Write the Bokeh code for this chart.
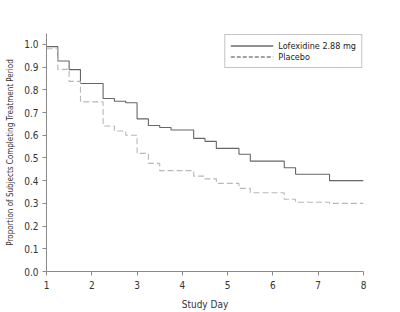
from bokeh.plotting import figure
from bokeh.models import Range1d, FixedTicker, Legend, LegendItem, NumeralTickFormatter
from bokeh.embed import file_html
from bokeh.resources import INLINE

# Data (step curves, value holds from each day until the next)
lofex_day = [1, 1.25, 1.5, 1.75, 2.25, 2.5, 2.75, 3.0, 3.25, 3.5, 3.75, 4.25, 4.5, 4.75, 5.25, 5.5, 6.25, 6.5, 7.25, 8]
lofex_prop = [0.99, 0.927, 0.889, 0.828, 0.762, 0.75, 0.743, 0.672, 0.643, 0.634, 0.623, 0.586, 0.573, 0.542, 0.516, 0.486, 0.457, 0.428, 0.40, 0.40]

placebo_day = [1, 1.25, 1.5, 1.75, 2.25, 2.5, 2.75, 3.0, 3.25, 3.5, 4.25, 4.5, 4.75, 5.25, 5.5, 6.25, 6.5, 7.25, 8]
placebo_prop = [0.981, 0.89, 0.837, 0.747, 0.641, 0.619, 0.60, 0.52, 0.476, 0.444, 0.42, 0.408, 0.388, 0.366, 0.347, 0.318, 0.305, 0.30, 0.30]

x_ticks = [1, 2, 3, 4, 5, 6, 7, 8]
y_ticks = [0.0, 0.1, 0.2, 0.3, 0.4, 0.5, 0.6, 0.7, 0.8, 0.9, 1.0]

series_names = ["Lofexidine 2.88 mg", "Placebo"]

FONT = "'DejaVu Sans Condensed', 'Liberation Sans', sans-serif"

p = figure(width=400, height=312, output_backend="svg", toolbar_location=None,
           x_range=Range1d(1, 8), y_range=Range1d(0, 1.048),
           min_border_left=46, min_border_right=37, min_border_top=33, min_border_bottom=40)
p.outline_line_color = None
p.xgrid.visible = False
p.ygrid.visible = False
p.background_fill_color = "white"
p.border_fill_color = "white"

p.step(lofex_day, lofex_prop, mode="after", line_color="#666666", line_width=1.1)
p.step(placebo_day, placebo_prop, mode="after", line_color="#b8b8b8", line_width=1.1, line_dash="6 3")

# legend-only renderers (darker, as drawn in the reference legend box)
nan = float("nan")
r1 = p.line([nan], [nan], line_color="#222222", line_width=1)
r2 = p.line([nan], [nan], line_color="#444444", line_width=1, line_dash="4 2")
legend = Legend(items=[LegendItem(label=series_names[0], renderers=[r1]),
                       LegendItem(label=series_names[1], renderers=[r2])],
                location="top_right")
legend.label_text_font = FONT
legend.label_text_font_size = "9px"
legend.label_text_color = "#222222"
legend.label_height = 11
legend.glyph_height = 11
legend.glyph_width = 43
legend.label_standoff = 5
legend.spacing = 0
legend.padding = 5
legend.margin = 1
legend.border_line_color = "#8a8a8a"
legend.border_line_width = 1
legend.background_fill_alpha = 1
p.add_layout(legend)

for ax in (p.xaxis[0], p.yaxis[0]):
    ax.axis_line_color = "#8a8a8a"
    ax.major_tick_line_color = "#8a8a8a"
    ax.minor_tick_line_color = None
    ax.major_tick_out = 4
    ax.major_tick_in = 0
    ax.major_label_text_font = FONT
    ax.major_label_text_font_size = "10px"
    ax.major_label_text_color = "#333333"
    ax.axis_label_text_font = FONT
    ax.axis_label_text_font_style = "normal"
    ax.axis_label_text_color = "#333333"

p.xaxis.ticker = FixedTicker(ticks=x_ticks)
p.yaxis.ticker = FixedTicker(ticks=y_ticks)
p.yaxis.formatter = NumeralTickFormatter(format="0.0")
p.xaxis.axis_label = "Study Day"
p.yaxis.axis_label = "Proportion of Subjects Completing Treatment Period"
p.xaxis.axis_label_text_font_size = "10px"
p.yaxis.axis_label_text_font_size = "8px"
p.xaxis.major_label_standoff = 5
p.yaxis.major_label_standoff = 4
p.xaxis.axis_label_standoff = 7
p.yaxis.axis_label_standoff = 6

open("out.html", "w").write(file_html(p, INLINE))
